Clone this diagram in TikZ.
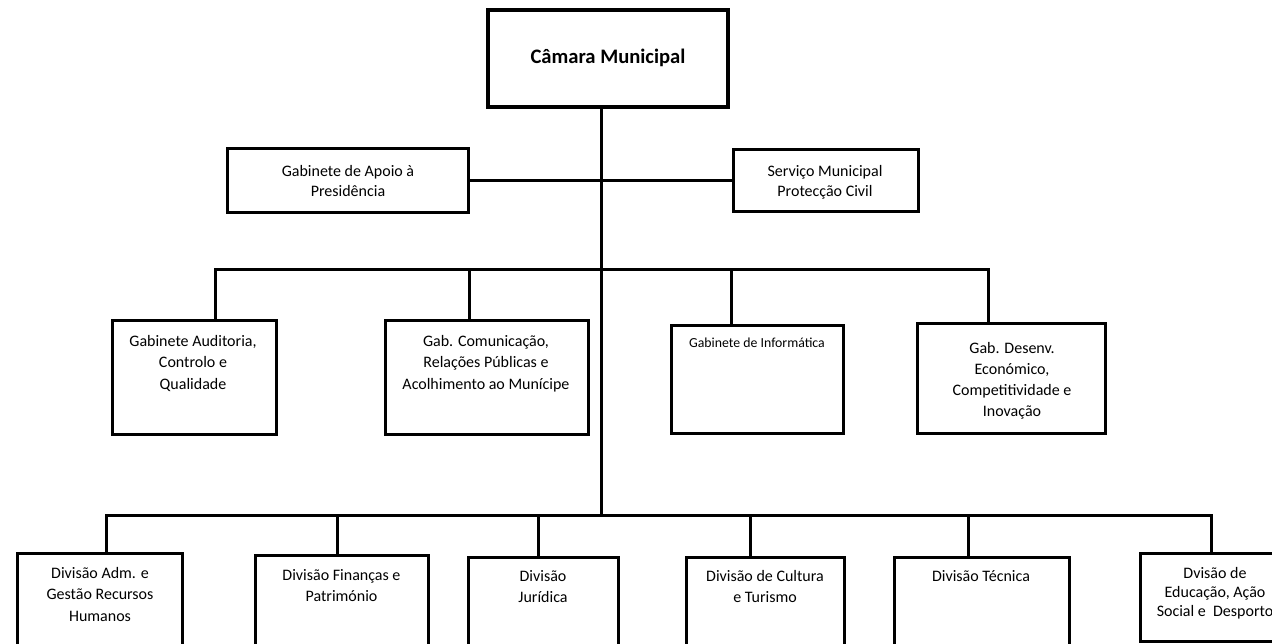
\documentclass[tikz,border=0pt]{standalone}
\usepackage{fontspec}
\setmainfont{Carlito}
\begin{document}
\begin{tikzpicture}[x=1pt,y=-1pt,
  box/.style={draw, line width=3pt, inner sep=0pt, fill=white},
  conn/.style={line width=3pt},
  txt/.style={anchor=north, align=center, inner sep=0pt, font=\fontsize{16}{21.5}\selectfont},
  txtsmall/.style={anchor=north, align=center, inner sep=0pt, font=\fontsize{13.8}{17}\selectfont},
  title/.style={align=center, inner sep=0pt, font=\fontsize{20.6}{24}\selectfont\bfseries}]
\useasboundingbox (0,0) rectangle (1272,643);
\fill[white] (0,0) rectangle (1272,643);
\clip (0,0) rectangle (1272,643);

% junction coordinates
\coordinate (jT) at (601,515);
\coordinate (jM) at (601,269);
\coordinate (jA) at (215,269);
\coordinate (jB) at (469,269);
\coordinate (jC) at (731,269);
\coordinate (jD) at (988,269);
\coordinate (j1) at (106,515);
\coordinate (j2) at (337,515);
\coordinate (j3) at (538,515);
\coordinate (j4) at (750,515);
\coordinate (j5) at (968,515);
\coordinate (j6) at (1211,515);

% boxes
\node[box, line width=3.5pt, minimum width=240, minimum height=97] (top) at (608,58.5) {};
\node[box, minimum width=241, minimum height=64] (apoio) at (347.5,180) {};
\node[box, minimum width=185, minimum height=62] (servico) at (825.5,180) {};
\node[box, minimum width=164, minimum height=114] (A) at (194,377) {};
\node[box, minimum width=203, minimum height=114] (B) at (486.5,377) {};
\node[box, minimum width=172, minimum height=108] (C) at (757,379) {};
\node[box, minimum width=188, minimum height=110] (D) at (1011,378) {};
\node[box, minimum width=165, minimum height=147] (E1) at (99.5,626.5) {};
\node[box, minimum width=173, minimum height=145] (E2) at (341.5,627.5) {};
\node[box, minimum width=150, minimum height=143] (E3) at (543,628.5) {};
\node[box, minimum width=158, minimum height=143] (E4) at (765,628.5) {};
\node[box, minimum width=175, minimum height=143] (E5) at (981.5,628.5) {};
\node[box, minimum width=160, minimum height=88] (E6) at (1220,597) {};

% connectors
\draw[conn] (jT |- top.south) -- (jT);
\draw[conn] (apoio.east) -- (servico.west);
\draw[conn] (jA |- A.north) -- (jA) -- (jD) -- (jD |- D.north);
\draw[conn] (jB) -- (jB |- B.north);
\draw[conn] (jC) -- (jC |- C.north);
\draw[conn] (j1 |- E1.north) -- (j1) -- (j6) -- (j6 |- E6.north);
\draw[conn] (j2) -- (j2 |- E2.north);
\draw[conn] (j3) -- (j3 |- E3.north);
\draw[conn] (j4) -- (j4 |- E4.north);
\draw[conn] (j5) -- (j5 |- E5.north);

% texts
\node[title] (ttop) at (608,58) {Câmara Municipal};
\node[txt, font=\fontsize{16}{20}\selectfont] (tapoio) at (348,165) {Gabinete de Apoio à\\Presidência};
\node[txt, font=\fontsize{16}{20}\selectfont] (tservico) at (825,165) {Serviço Municipal\\Protecção Civil};
\node[txt] (tA) at (193,335) {Gabinete Auditoria,\\Controlo e\\Qualidade};
\node[txt] (tB) at (486,335) {Gab. Comunicação,\\Relações Públicas e\\Acolhimento ao Munícipe};
\node[txtsmall] (tC) at (757,338) {Gabinete de Informática};
\node[txt, font=\fontsize{16}{21}\selectfont] (tD) at (1012,342) {Gab. Desenv.\\Económico,\\Competitividade e\\Inovação};
\node[txt] (tE1) at (100,567) {Divisão Adm. e\\Gestão Recursos\\Humanos};
\node[txt] (tE2) at (341.5,569) {Divisão Finanças e\\Património};
\node[txt] (tE3) at (543,570) {Divisão\\Jurídica};
\node[txt] (tE4) at (765,570) {Divisão de Cultura\\e Turismo};
\node[txt] (tE5) at (981,570) {Divisão Técnica};
\node[txt, font=\fontsize{16}{19}\selectfont] (tE6) at (1215,567) {Dvisão de\\Educação, Ação\\Social e~ Desporto};
\end{tikzpicture}
\end{document}
